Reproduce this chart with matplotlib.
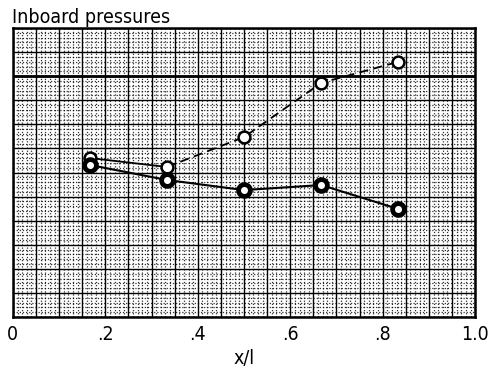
import matplotlib.pyplot as plt
from matplotlib.ticker import MultipleLocator

# data (y in grid units, no y scale shown)
x_pos = [0.167, 0.333, 0.5, 0.667, 0.833]
upper = [6.60, 6.23, 7.47, 9.72, 10.59]
lower = [6.31, 5.69, 5.27, 5.48, 4.49]
xtick_labels = ['0', '', '', '', '.2', '', '', '', '.4', '', '', '', '.6', '', '', '',
                '.8', '', '', '', '1.0']

plt.rcParams['font.family'] = ['DejaVu Sans']
plt.rcParams['font.stretch'] = 'condensed'

fig = plt.figure(figsize=(4.96, 3.73), dpi=100)
ax = fig.add_axes([0.026, 0.150, 0.932, 0.775])

ax.set_xlim(0, 1.0)
ax.set_ylim(0, 12)

# graph paper
ax.xaxis.set_major_locator(MultipleLocator(0.05))
ax.yaxis.set_major_locator(MultipleLocator(1))
ax.xaxis.set_minor_locator(MultipleLocator(0.01))
ax.yaxis.set_minor_locator(MultipleLocator(0.2))
ax.grid(which='major', color='black', linewidth=1.0)
ax.grid(which='minor', color='black', linewidth=0.9, linestyle=(0, (1, 1.5)), alpha=0.8)
ax.axhline(10, color='black', linewidth=2)
ax.set_axisbelow(True)
for s in ax.spines.values():
    s.set_linewidth(1.8)

# upper series: solid first segment, dashed after
ax.plot(x_pos[:2], upper[:2], color='black', linewidth=1.3)
ax.plot(x_pos[1:], upper[1:], color='black', linewidth=1.3, linestyle=(0, (5, 3)))
ax.plot(x_pos, upper, 'o', markersize=8.5, markerfacecolor='white',
        markeredgecolor='black', markeredgewidth=1.8, linestyle='none')

# lower series
ax.plot(x_pos, lower, '-', color='black', linewidth=1.5)
ax.plot(x_pos, lower, 'o', markersize=8.5, markerfacecolor='white',
        markeredgecolor='black', markeredgewidth=3.4, linestyle='none')

ax.set_xticks([i * 0.05 for i in range(21)])
ax.set_xticklabels(xtick_labels, fontsize=14)
ax.tick_params(which='both', length=0, pad=6)
ax.set_yticklabels([])

ax.set_xlabel('x/l', fontsize=14, labelpad=3)
fig.text(0.024, 0.953, 'Inboard pressures', fontsize=14, ha='left', va='center')

fig.savefig('out.png', dpi=100)
